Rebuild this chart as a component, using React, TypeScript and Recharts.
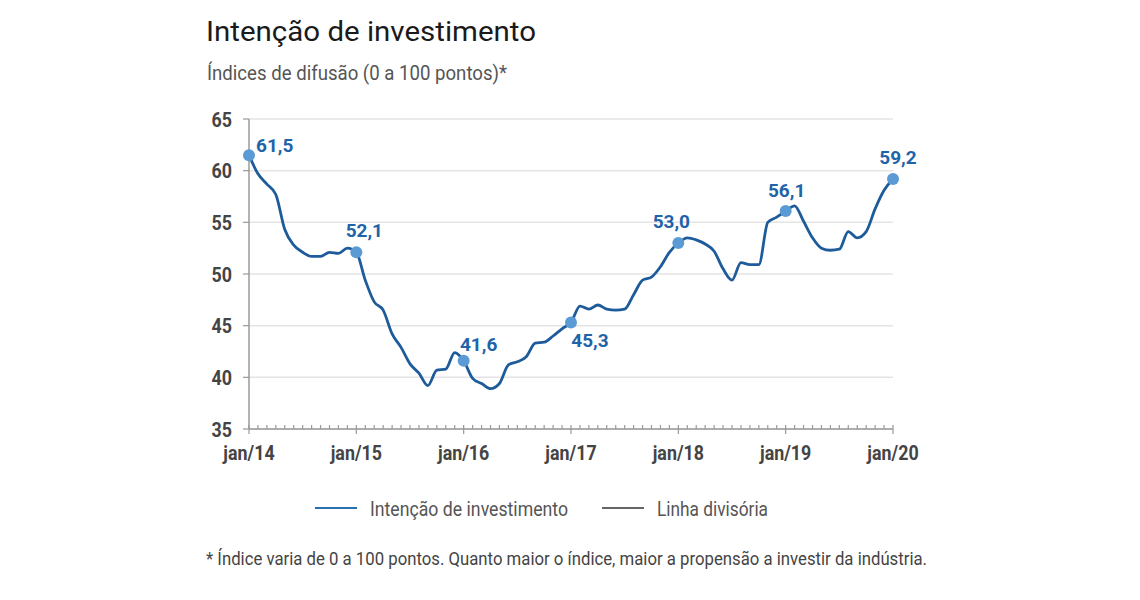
import React from 'react';
import { LineChart, Line, XAxis, YAxis, CartesianGrid, Legend, LabelList } from 'recharts';

const monthNames = ['jan', 'fev', 'mar', 'abr', 'mai', 'jun', 'jul', 'ago', 'set', 'out', 'nov', 'dez'];
const years = ['14', '15', '16', '17', '18', '19', '20'];
const categories: string[] = years.flatMap((y, yi) =>
  (yi === years.length - 1 ? ['jan'] : monthNames).map((m) => `${m}/${y}`)
);

const intencao = [
  61.5, 59.7, 58.7, 57.7, 54.3, 52.8, 52.1, 51.7, 51.7, 52.1, 52.0, 52.5,
  52.1, 49.4, 47.3, 46.5, 44.2, 42.9, 41.3, 40.4, 39.2, 40.7, 40.8, 42.4,
  41.6, 39.9, 39.4, 38.9, 39.4, 41.2, 41.5, 42.0, 43.3, 43.4, 44.0, 44.7,
  45.3, 46.9, 46.6, 47.0, 46.6, 46.5, 46.6, 48.0, 49.4, 49.7, 50.7, 52.1,
  53.0, 53.5, 53.3, 52.9, 52.2, 50.5, 49.4, 51.1, 50.9, 50.9, 55.0, 55.5,
  56.1, 56.6, 55.1, 53.5, 52.5, 52.3, 52.4, 54.1, 53.5, 54.1, 56.3, 58.1,
  59.2,
];

const yTicks = [35, 40, 45, 50, 55, 60, 65];
const highlightIdx = [0, 12, 24, 36, 48, 60, 72];

const seriesNames = { intencao: 'Intenção de investimento', divisoria: 'Linha divisória' };

const data = categories.map((c, i) => ({ month: c, intencao: intencao[i], divisoria: null as number | null }));

const labelPlacement: Record<number, { dx: number; dy: number; anchor: 'start' | 'middle' | 'end' }> = {
  0: { dx: 7, dy: -3, anchor: 'start' },
  12: { dx: 8, dy: -15, anchor: 'middle' },
  24: { dx: 15, dy: -10, anchor: 'middle' },
  36: { dx: 19, dy: 24, anchor: 'middle' },
  48: { dx: -7, dy: -15, anchor: 'middle' },
  60: { dx: 1, dy: -14, anchor: 'middle' },
  72: { dx: 5, dy: -15, anchor: 'middle' },
};

const FONT = 'Roboto, "Noto Sans", sans-serif';
const LINE_BLUE = '#1e5b9a';
const DOT_BLUE = '#5b9bd5';
const LABEL_BLUE = '#1f63a8';
const AXIS_GRAY = '#9a9a9a';

const XTick = (props: any) => {
  const { x, y, payload } = props;
  const label = String(payload.value);
  const major = label.startsWith('jan');
  return (
    <g>
      <line x1={x} x2={x} y1={y - 4} y2={major ? y + 5 : y} stroke={AXIS_GRAY} strokeWidth={1.2} />
      {major && (
        <g transform={`translate(${x},${y + 31}) scale(0.85,1)`}>
          <text textAnchor="middle" fontFamily={FONT} fontWeight={700} fontSize={21} fill="#444">
            {label}
          </text>
        </g>
      )}
    </g>
  );
};

const YTick = (props: any) => {
  const { x, y, payload } = props;
  return (
    <g transform={`translate(${x},${y + 7.5}) scale(0.85,1)`}>
      <text textAnchor="end" fontFamily={FONT} fontWeight={700} fontSize={21} fill="#444">
        {payload.value}
      </text>
    </g>
  );
};

const renderDot = (p: any) =>
  highlightIdx.includes(p.index) ? (
    <circle key={`d${p.index}`} cx={p.cx} cy={p.cy} r={6} fill={DOT_BLUE} />
  ) : (
    <g key={`d${p.index}`} />
  );

const renderLabel = (p: any) => {
  const pl = labelPlacement[p.index];
  if (!pl || p.value == null) return null;
  const txt = Number(p.value).toFixed(1).replace('.', ',');
  return (
    <text
      key={`l${p.index}`}
      x={Number(p.x) + pl.dx}
      y={Number(p.y) + pl.dy}
      textAnchor={pl.anchor}
      fontFamily={FONT}
      fontWeight={700}
      fontSize={19}
      fill={LABEL_BLUE}
    >
      {txt}
    </text>
  );
};

const legendColors: Record<string, string> = { intencao: '#2a6fb0', divisoria: '#666666' };
const legendTextLen: Record<string, number> = { intencao: 198, divisoria: 111 };

const LegendContent = (props: any) => {
  const payload = props.payload || [];
  const starts = [0, 287];
  return (
    <svg width={470} height={30}>
      {payload.map((e: any, i: number) => {
        const key = e.dataKey as string;
        const x0 = starts[i] ?? i * 287;
        return (
          <g key={key}>
            <line x1={x0} x2={x0 + 42} y1={10} y2={10} stroke={legendColors[key] || e.color} strokeWidth={2} />
            <text
              x={x0 + 55}
              y={18}
              fontFamily={FONT}
              fontSize={20}
              fill="#555"
              textLength={legendTextLen[key]}
              lengthAdjust="spacingAndGlyphs"
            >
              {e.value}
            </text>
          </g>
        );
      })}
    </svg>
  );
};

export default function App() {
  return (
    <div style={{ position: 'relative', width: 1124, height: 584, background: '#fff' }}>
      <LineChart
        width={1124}
        height={584}
        data={data}
        margin={{ top: 111, right: 239, bottom: 133, left: 181 }}
      >
        <CartesianGrid vertical={false} stroke="#e4e4e4" strokeWidth={1.5} />
        <XAxis
          dataKey="month"
          interval={0}
          tick={<XTick />}
          tickLine={false}
          tickSize={0}
          tickMargin={0}
          axisLine={{ stroke: AXIS_GRAY, strokeWidth: 1.5 }}
          height={30}
        />
        <YAxis
          domain={[35, 65]}
          ticks={yTicks}
          width={60}
          tick={<YTick />}
          tickSize={6}
          tickMargin={11}
          tickLine={{ stroke: AXIS_GRAY, strokeWidth: 1.2 }}
          axisLine={{ stroke: AXIS_GRAY, strokeWidth: 1.5 }}
          allowDataOverflow
        />
        <Legend
          layout="horizontal"
          verticalAlign="middle"
          align="center"
          wrapperStyle={{ position: 'absolute', left: 307, top: 490, width: 470, height: 30 }}
          content={<LegendContent />}
        />
        <Line
          type="monotone"
          dataKey="intencao"
          name={seriesNames.intencao}
          stroke={LINE_BLUE}
          strokeWidth={2.8}
          dot={renderDot}
          activeDot={false}
          isAnimationActive={false}
        >
          <LabelList dataKey="intencao" content={renderLabel} />
        </Line>
        <Line
          type="linear"
          dataKey="divisoria"
          name={seriesNames.divisoria}
          stroke="#666666"
          strokeWidth={2}
          dot={false}
          activeDot={false}
          isAnimationActive={false}
        />
      </LineChart>
      <svg
        width={1124}
        height={584}
        style={{ position: 'absolute', left: 0, top: 0, pointerEvents: 'none' }}
      >
        <text x={198} y={32.7} fontFamily={FONT} fontSize={27} fill="#1a1a1a" textLength={330} lengthAdjust="spacingAndGlyphs">
          Intenção de investimento
        </text>
        <text x={199} y={72} fontFamily={FONT} fontSize={20} fill="#555" textLength={300} lengthAdjust="spacingAndGlyphs">
          Índices de difusão (0 a 100 pontos)*
        </text>
        <text x={198} y={557} fontFamily={FONT} fontSize={19} fill="#444" textLength={721} lengthAdjust="spacingAndGlyphs">
          * Índice varia de 0 a 100 pontos. Quanto maior o índice, maior a propensão a investir da indústria.
        </text>
      </svg>
    </div>
  );
}
